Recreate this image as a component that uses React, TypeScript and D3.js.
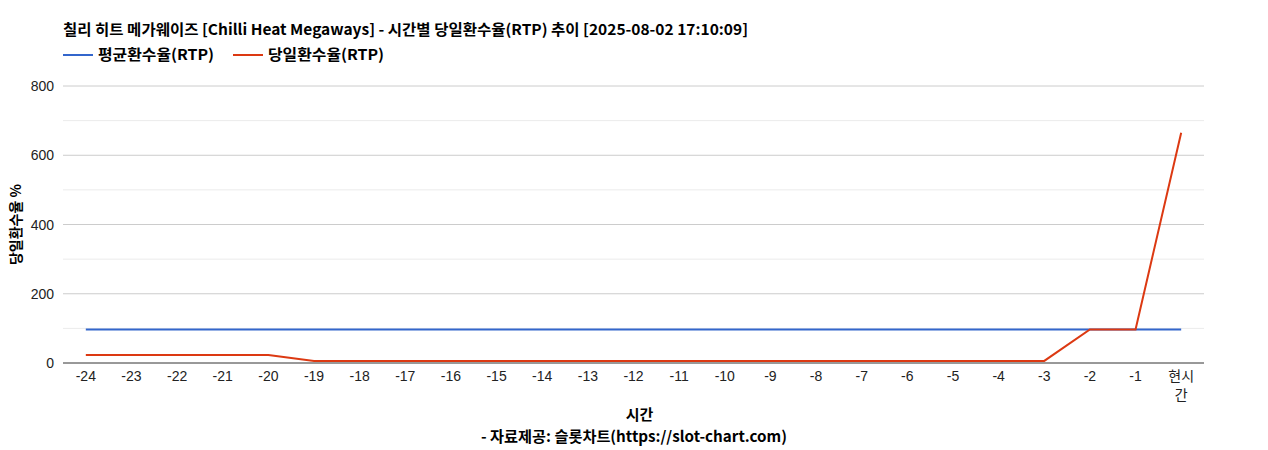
import { useEffect, useRef } from "react";
import * as d3 from "d3";

const categories = [
  "-24", "-23", "-22", "-21", "-20", "-19", "-18", "-17", "-16", "-15", "-14", "-13",
  "-12", "-11", "-10", "-9", "-8", "-7", "-6", "-5", "-4", "-3", "-2", "-1", "현시간",
];
const avgRtp = [
  97, 97, 97, 97, 97, 97, 97, 97, 97, 97, 97, 97, 97, 97, 97, 97, 97, 97, 97, 97, 97, 97, 97, 97, 97,
];
const dayRtp = [
  23, 23, 23, 23, 23, 6, 6, 6, 6, 6, 6, 6, 6, 6, 6, 6, 6, 6, 6, 6, 6, 6, 97, 97, 665,
];
const yTicks = [0, 200, 400, 600, 800];
const yMinor = [100, 300, 500, 700];

const series = [
  { name: "평균환수율(RTP)", values: avgRtp, color: "#3366cc" },
  { name: "당일환수율(RTP)", values: dayRtp, color: "#dc3912" },
];

const title = "칠리 히트 메가웨이즈 [Chilli Heat Megaways] - 시간별 당일환수율(RTP) 추이 [2025-08-02 17:10:09]";

export default function App() {
  const svgRef = useRef<SVGSVGElement | null>(null);

  useEffect(() => {
    document.body.style.margin = "0";
    if (!svgRef.current) return;
    const svg = d3.select(svgRef.current);
    svg.selectAll("*").remove();

    const width = 1268;
    const height = 450;
    const margin = { top: 86, right: 64, bottom: 87, left: 63 };
    const font = "Arial, 'Liberation Sans', 'Noto Sans CJK KR', sans-serif";
    const kfont = "'Noto Sans CJK KR', sans-serif";

    const x = d3
      .scalePoint<string>()
      .domain(categories)
      .range([margin.left, width - margin.right])
      .padding(0.5);
    const y = d3.scaleLinear().domain([0, 800]).range([height - margin.bottom, margin.top]);

    // Title
    svg
      .append("text")
      .attr("x", margin.left)
      .attr("y", 35)
      .attr("textLength", 685)
      .attr("lengthAdjust", "spacingAndGlyphs")
      .style("font-family", kfont)
      .style("font-size", "15px")
      .style("font-weight", "bold")
      .attr("fill", "#000")
      .text(title);

    // Legend
    let lx = margin.left;
    series.forEach((s) => {
      svg
        .append("line")
        .attr("x1", lx)
        .attr("x2", lx + 30)
        .attr("y1", 55)
        .attr("y2", 55)
        .attr("stroke", s.color)
        .attr("stroke-width", 2);
      svg
        .append("text")
        .attr("x", lx + 35)
        .attr("y", 60)
        .attr("textLength", 116)
        .attr("lengthAdjust", "spacingAndGlyphs")
        .style("font-family", kfont)
        .style("font-size", "15px")
        .style("font-weight", "bold")
        .text(s.name);
      lx += 35 + 116 + 19;
    });

    // Gridlines
    svg
      .append("g")
      .selectAll("line.minor")
      .data(yMinor)
      .enter()
      .append("line")
      .attr("x1", margin.left)
      .attr("x2", width - margin.right)
      .attr("y1", (d) => y(d))
      .attr("y2", (d) => y(d))
      .attr("stroke", "#ebebeb");
    svg
      .append("g")
      .selectAll("line.major")
      .data(yTicks.filter((d) => d !== 0))
      .enter()
      .append("line")
      .attr("x1", margin.left)
      .attr("x2", width - margin.right)
      .attr("y1", (d) => y(d))
      .attr("y2", (d) => y(d))
      .attr("stroke", "#cccccc");

    // Y labels
    svg
      .append("g")
      .selectAll("text")
      .data(yTicks)
      .enter()
      .append("text")
      .attr("x", margin.left - 9)
      .attr("y", (d) => y(d) + 5)
      .attr("text-anchor", "end")
      .style("font-family", font)
      .style("font-size", "14px")
      .attr("fill", "#222")
      .text((d) => String(d));

    // Y title
    svg
      .append("text")
      .attr("transform", `translate(21, ${(y(0) + y(800)) / 2}) rotate(-90)`)
      .attr("text-anchor", "middle")
      .style("font-family", kfont)
      .style("font-size", "14px")
      .style("font-weight", "bold")
      .text("당일환수율 %");

    // X labels
    const xl = svg
      .append("g")
      .selectAll("text")
      .data(categories)
      .enter()
      .append("text")
      .attr("x", (d) => x(d)!)
      .attr("y", y(0) + 18)
      .attr("text-anchor", "middle")
      .style("font-family", font)
      .style("font-size", "14px")
      .attr("fill", "#222");
    xl.each(function (d) {
      const el = d3.select(this);
      if (d.length > 2 && !d.startsWith("-")) {
        el.append("tspan").attr("x", x(d)!).text(d.slice(0, 2));
        el.append("tspan").attr("x", x(d)!).attr("dy", 19).text(d.slice(2));
      } else {
        el.text(d);
      }
    });

    // X title and source
    const cx = (margin.left + width - margin.right) / 2;
    svg
      .append("text")
      .attr("x", cx + 6)
      .attr("y", 420)
      .attr("text-anchor", "middle")
      .style("font-family", kfont)
      .style("font-size", "15px")
      .style("font-weight", "bold")
      .text("시간");
    svg
      .append("text")
      .attr("x", 481)
      .attr("y", 442)
      .attr("textLength", 306)
      .attr("lengthAdjust", "spacingAndGlyphs")
      .style("font-family", kfont)
      .style("font-size", "15px")
      .style("font-weight", "bold")
      .text("- 자료제공: 슬롯차트(https://slot-chart.com)");

    // Lines
    const line = d3
      .line<number>()
      .x((_, i) => x(categories[i])!)
      .y((d) => y(d));
    series.forEach((s) => {
      svg
        .append("path")
        .attr("d", line(s.values)!)
        .attr("fill", "none")
        .attr("stroke", s.color)
        .attr("stroke-width", 2);
    });

    // Baseline
    svg
      .append("line")
      .attr("x1", margin.left)
      .attr("x2", width - margin.right)
      .attr("y1", y(0))
      .attr("y2", y(0))
      .attr("stroke", "#333");
  }, []);

  return <svg ref={svgRef} width={1268} height={450} style={{ display: "block" }}></svg>;
}
